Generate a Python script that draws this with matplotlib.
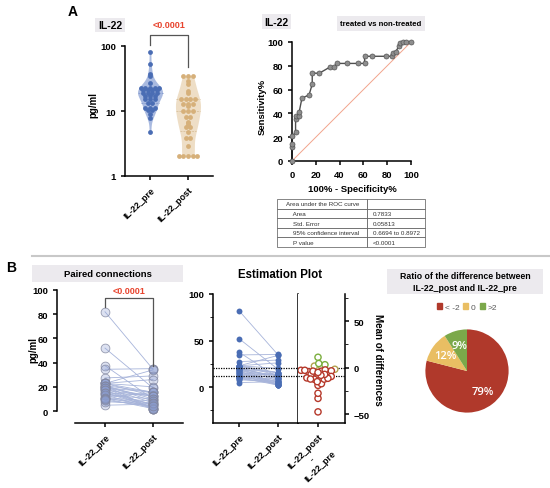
import numpy as np
import matplotlib
matplotlib.use("Agg")
import matplotlib.pyplot as plt
from matplotlib.patches import Rectangle, Patch
from matplotlib.ticker import MultipleLocator, NullLocator

plt.rcParams['font.family'] = ['Liberation Sans', 'DejaVu Sans']
plt.rcParams['font.weight'] = 'bold'
plt.rcParams['axes.linewidth'] = 1.1
plt.rcParams['xtick.major.width'] = 1.1
plt.rcParams['ytick.major.width'] = 1.1
plt.rcParams['xtick.major.size'] = 3
plt.rcParams['ytick.major.size'] = 3
plt.rcParams['xtick.minor.size'] = 2
plt.rcParams['ytick.minor.size'] = 2

# paired samples (same patient order in both lists)
groups = ['IL-22_pre', 'IL-22_post']
il22_pre = [82, 52, 37.5, 34.5, 27.3, 4.8, 7.7, 22.8, 22.8, 11,
            22.8, 22.8, 21, 19.2, 22.8, 17, 15.1, 19.2, 21, 13.4, 21, 11,
            21, 19.2, 19.2, 17, 17, 15.1, 15.1, 13.4, 11, 10.2, 10.2, 8.9]
il22_post = [34.5, 19, 10, 35, 29, 5.7, 6.0, 34, 26, 15.5,
             20, 15.5, 15.5, 15.5, 12.7, 12.7, 12.7, 12, 10, 10, 8.2, 8.2,
             2, 2, 6.8, 2, 4.7, 5.7, 2.9, 2, 3.8, 2, 6.5, 3.8]
p_text = '<0.0001'

# ROC curve
roc_fpr = [0, 0, 0, 0, 3, 3, 3.3, 5.5, 6, 8.3, 14.4, 17, 17, 23, 32, 35, 37.5,
           46, 55.5, 61, 61, 67.5, 78.6, 84, 85, 87, 90, 91, 93, 96, 100]
roc_tpr = [0, 11.7, 14.5, 21, 24, 35, 38, 38, 41, 52.6, 55.7, 64.6, 73.8, 73.8,
           79, 79, 82, 82, 82, 82, 88, 88, 88, 88, 91, 91.6, 96.7, 99.4, 100, 100, 100]
table_rows = [['Area under the ROC curve', ''],
              ['Area', '0.7833'],
              ['Std. Error', '0.05813'],
              ['95% confidence interval', '0.6694 to 0.8972'],
              ['P value', '<0.0001']]

# pie of the differences
pie_labels = ['< -2', '0', '>2']
pie_values = [79, 12, 9]
pie_colors = ['#B0392B', '#E9BE63', '#7BA84A']

pre = np.array(il22_pre, float)
post = np.array(il22_post, float)
diff = np.round(post - pre, 3)

W, H = 550, 489
fig = plt.figure(figsize=(W / 100, H / 100), dpi=100)


def px_axes(l, t, r, b):
    return fig.add_axes([l / W, 1 - b / H, (r - l) / W, (b - t) / H])


def ftext(x, y, s, **kw):
    fig.text(x / W, 1 - y / H, s, **kw)


def title_box(l, t, r, b, s, size):
    fig.add_artist(Rectangle((l / W, 1 - b / H), (r - l) / W, (b - t) / H,
                             transform=fig.transFigure, fc='#ECEAEE', ec='none'))
    ftext((l + r) / 2, (t + b) / 2, s, ha='center', va='center', fontsize=size,
          linespacing=1.3)


def kde(vals, grid, bw):
    z = (grid[:, None] - vals[None, :]) / bw
    return np.exp(-0.5 * z ** 2).sum(axis=1)


def px_info(ax, vals):
    xy = np.column_stack([np.zeros(len(vals)), vals])
    ypix = ax.transData.transform(xy)[:, 1]
    p = ax.transData.transform([[0, vals[0]], [1, vals[0]]])
    return ypix, p[1, 0] - p[0, 0]


def swarm(ax, vals, d):
    # beeswarm offsets (data units) from pixel positions
    ypix, scale = px_info(ax, vals)
    xs = np.zeros(len(vals))
    placed = []
    for i in np.argsort(ypix):
        y = ypix[i]
        cands = [0.0]
        for px, py in placed:
            dy = y - py
            if abs(dy) < d:
                dx = np.sqrt(d * d - dy * dy)
                cands += [px + dx, px - dx]
        for c in sorted(cands, key=abs):
            if all((c - px) ** 2 + (y - py) ** 2 >= d * d - 1e-6 for px, py in placed):
                xs[i] = c
                break
        placed.append((xs[i], y))
    return xs / scale


def rows(ax, vals, d, tol=1.0):
    # GraphPad-like rows: points at (almost) the same height sit side by side
    ypix, scale = px_info(ax, vals)
    xs = np.zeros(len(vals))
    order = list(np.argsort(ypix))
    while order:
        start = ypix[order[0]]
        grp = [i for i in order if ypix[i] - start <= tol]
        n = len(grp)
        for k, i in enumerate(grp):
            xs[i] = (k - (n - 1) / 2) * d
        order = [i for i in order if i not in grp]
    return xs / scale


def rot_labels(ax, size=6.5):
    for lab in ax.get_xticklabels():
        lab.set_rotation(45)
        lab.set_ha('right')
        lab.set_rotation_mode('anchor')
        lab.set_fontsize(size)


def style(ax):
    ax.spines['top'].set_visible(False)
    ax.spines['right'].set_visible(False)
    ax.tick_params(labelsize=6.8)


# ---------------- A: violin ----------------
ftext(73, 12, 'A', fontsize=10, ha='center', va='center')
title_box(95, 19, 125, 33, 'IL-22', 7.5)

axv = px_axes(125, 47, 213, 177)
axv.set_yscale('log')
axv.set_ylim(1, 100)
axv.set_xlim(-0.66, 1.66)
style(axv)
axv.yaxis.set_minor_locator(NullLocator())
axv.set_yticks([1, 10, 100], ['1', '10', '100'])
axv.set_xticks([0, 1], groups)
rot_labels(axv)

vio = [(pre, '#4A6DB4', '#A9BAE0', '#8A9FD0', 0.1),
       (post, '#D6B07A', '#EEDEC6', '#DCC5A2', 0.16)]
for i, (vals, dot, fill, qcol, bw) in enumerate(vio):
    lv = np.log10(vals)
    grid = np.linspace(lv.min(), lv.max(), 200)
    dens = kde(lv, grid, bw)
    half = dens / dens.max() * 0.33
    axv.fill_betweenx(10 ** grid, i - half, i + half, color=fill, lw=0, zorder=1)
    for q in np.percentile(lv, [25, 50, 75]):
        hw = np.interp(q, grid, half)
        axv.plot([i - hw, i + hw], [10 ** q, 10 ** q], color=qcol, lw=0.7,
                 ls=(0, (2, 1)), zorder=2)
    xo = rows(axv, vals, 4.7)
    axv.scatter(i + xo, vals, s=12, color=dot, lw=0, zorder=3)

top = 150
axv.plot([0, 0, 1, 1], [pre.max() * 1.28, top, top, post.max() * 1.35],
         color='#555555', lw=0.9, clip_on=False)
axv.text(0.5, top * 1.22, p_text, color='#E8442E', fontsize=6.5, ha='center',
         va='bottom')
ftext(93, 105, 'pg/ml', rotation=90, ha='center', va='center', fontsize=7)

# ---------------- A: ROC ----------------
title_box(262, 15, 291, 30, 'IL-22', 7.5)
title_box(337, 17, 425, 32, 'treated vs non-treated', 5.6)

axr = px_axes(292, 43, 411, 162)
axr.set_xlim(0, 100)
axr.set_ylim(0, 100)
style(axr)
axr.set_xticks(range(0, 101, 20))
axr.set_yticks(range(0, 101, 20))
axr.plot([0, 100], [0, 100], color='#F2A48C', lw=0.7, zorder=1)
axr.plot(roc_fpr, roc_tpr, color='#4F4F4F', lw=1, zorder=2, clip_on=False)
axr.scatter(roc_fpr, roc_tpr, s=13, fc='#8E8E8E', ec='#555555', lw=0.5,
            zorder=3, clip_on=False)
ftext(262, 107, 'Sensitivity%', rotation=90, ha='center', va='center', fontsize=6.8)
ftext(352, 189, '100% - Specificity%', ha='center', va='center', fontsize=6.8)

axt = px_axes(277, 200, 425, 248)
axt.axis('off')
cells = [r if j == 0 else ['    ' + r[0], r[1]] for j, r in enumerate(table_rows)]
tbl = axt.table(cellText=cells, colWidths=[90 / 148, 58 / 148], cellLoc='left',
                bbox=[0, 0, 1, 1])
tbl.auto_set_font_size(False)
tbl.set_fontsize(4.5)
for c in tbl.get_celld().values():
    c.set_edgecolor('#555555')
    c.set_linewidth(0.5)
    c.get_text().set_fontweight('normal')
    c.get_text().set_color('#333333')

# separator
fig.add_artist(plt.Line2D([32 / W, 1], [1 - 257 / H, 1 - 257 / H],
                          transform=fig.transFigure, color='#C8C8C8', lw=1.5))

# ---------------- B: paired ----------------
ftext(11, 268, 'B', fontsize=10, ha='center', va='center')
title_box(32, 266, 183, 283, 'Paired connections', 6.8)

axp = px_axes(75, 291, 183, 424)
axp.set_ylim(-9.9, 100)
axp.set_xlim(-0.625, 1.625)
style(axp)
axp.spines['left'].set_position(('outward', 13))
axp.spines['left'].set_bounds(0, 100)
axp.set_yticks(range(0, 101, 20))
axp.set_xticks([0, 1], groups)
rot_labels(axp)
for a, b in zip(pre, post):
    axp.plot([0, 1], [a, b], color='#A7B4DA', lw=0.6, zorder=1)
axp.scatter(np.zeros(len(pre)), pre, s=40, fc=(0.55, 0.62, 0.82, 0.3),
            ec=(0.5, 0.52, 0.62, 0.8), lw=0.6, zorder=2)
axp.scatter(np.ones(len(post)), post, s=40, fc=(0.55, 0.62, 0.82, 0.3),
            ec=(0.5, 0.52, 0.62, 0.8), lw=0.6, zorder=2)
btop = 93.4
axp.plot([0, 0, 1, 1], [pre.max() + 4, btop, btop, post.max() + 2],
         color='#555555', lw=0.9, clip_on=False)
axp.text(0.5, btop + 2.5, p_text, color='#E8442E', fontsize=6.5, ha='center',
         va='bottom')
ftext(33, 350, 'pg/ml', rotation=90, ha='center', va='center', fontsize=7)

# ---------------- B: estimation ----------------
ftext(280, 275, 'Estimation Plot', ha='center', va='center', fontsize=8.3)
axe = px_axes(213, 295, 298, 424)
ylo, yhi = -38.7, 100
axe.set_ylim(ylo, yhi)
axe.set_xlim(-0.667, 1.51)
axe.spines['top'].set_visible(False)
axe.tick_params(labelsize=6.8)
axe.yaxis.set_major_locator(MultipleLocator(50))
axe.yaxis.set_minor_locator(MultipleLocator(25))
axe.set_xticks([0, 1], groups)
rot_labels(axe)
for a, b in zip(pre, post):
    axe.plot([0, 1], [a, b], color='#A7B4DA', lw=0.6, zorder=1)
axe.scatter(np.zeros(len(pre)), pre, s=18, color='#4A6DB4', lw=0, zorder=2)
axe.scatter(np.ones(len(post)), post, s=18, color='#4A6DB4', lw=0, zorder=2)
axe.axhline(pre.mean(), color='k', lw=0.9, ls=(0, (1, 1)))
axe.axhline(post.mean(), color='k', lw=0.9, ls=(0, (1, 1)))

axd = px_axes(298, 295, 345, 424)
axd.set_ylim(ylo - pre.mean(), yhi - pre.mean())
axd.set_xlim(-0.513, 0.692)
for s in ['top', 'left']:
    axd.spines[s].set_visible(False)
axd.yaxis.tick_right()
axd.tick_params(labelsize=6.8)
axd.yaxis.set_major_locator(MultipleLocator(50))
axd.yaxis.set_minor_locator(MultipleLocator(25))
axd.set_yticks([-50, 0, 50], ['\u221250', '0', '50'])
axd.set_xticks([0], ['IL-22_post\n-\nIL-22_pre'])
rot_labels(axd)
for lab in axd.get_xticklabels():
    lab.set_multialignment('center')
axd.axhline(0, color='k', lw=0.9, ls=(0, (1, 1)))
axd.axhline(diff.mean(), color='k', lw=0.9, ls=(0, (1, 1)))
dcol = np.where(diff > 2, '#7BAE3E', np.where(diff < -2, '#B5382A', '#B3A24E'))
xo = swarm(axd, diff, 3.8)
axd.scatter(xo, diff, s=20, fc='white', ec=dcol, lw=1.0, zorder=3)
ftext(378, 360, 'Mean of differences', rotation=270, ha='center', va='center',
      fontsize=7)

# ---------------- B: pie ----------------
title_box(387, 270, 543, 295,
          'Ratio of the difference between\nIL-22_post and IL-22_pre', 6.3)
axpie = px_axes(415, 320, 519, 424)
wedges, _, autot = axpie.pie(pie_values, colors=pie_colors, startangle=90,
                             counterclock=False, autopct='%d%%', pctdistance=0.63,
                             wedgeprops=dict(lw=0))
for t in autot:
    t.set_color('white')
    t.set_fontsize(8)
    t.set_family(['Open Sans', 'DejaVu Sans'])
    t.set_fontweight('semibold')
handles = [Patch(color=c, label=l) for c, l in zip(pie_colors, pie_labels)]
fig.legend(handles=handles, loc='center', bbox_to_anchor=(467 / W, 1 - 308 / H),
           ncol=3, frameon=False, handlelength=0.6, handleheight=0.6,
           handletextpad=0.3, columnspacing=0.5,
           prop=dict(size=6, weight='normal'), labelcolor='#595959')

fig.savefig('out.png', dpi=100)
